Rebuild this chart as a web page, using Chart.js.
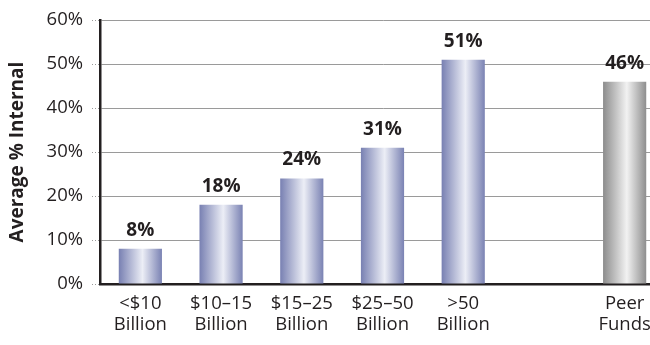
<!DOCTYPE html>
<html>
<head>
<meta charset="utf-8">
<script src="https://cdn.jsdelivr.net/npm/chart.js@4.4.1/dist/chart.umd.min.js"></script>
<style>
  html, body { margin: 0; padding: 0; background: #ffffff; overflow: hidden; }
  #wrap { position: relative; width: 666px; height: 345px; }
</style>
</head>
<body>
<div id="wrap"><canvas id="c"></canvas></div>
<script>
// Fund-size groups along the bottom axis (one blank slot before the peer group)
const categories = [
  ['<$10', 'Billion'],
  ['$10\u201315', 'Billion'],
  ['$15\u201325', 'Billion'],
  ['$25\u201350', 'Billion'],
  ['>50', 'Billion'],
  '',
  ['Peer', 'Funds']
];
// Average share managed internally, in percent
const internalPct = [8, 18, 24, 31, 51, null, 46];
// Which bars belong to the peer comparison (drawn in grey)
const isPeer = [false, false, false, false, false, false, true];
// Value-axis tick marks
const yTicks = [0, 10, 20, 30, 40, 50, 60];

const FONT = "'Open Sans', 'Noto Sans', sans-serif";
const BAR_FRACTION = 0.535;

function barGradient(context) {
  const chart = context.chart;
  const area = chart.chartArea;
  const xs = chart.scales.x;
  if (!area || !xs) return '#8a92c0';
  const i = context.dataIndex;
  const cx = xs.getPixelForValue(i);
  const half = (xs.width / categories.length) * BAR_FRACTION / 2;
  const g = chart.ctx.createLinearGradient(cx - half, 0, cx + half, 0);
  if (isPeer[i]) {
    g.addColorStop(0, '#8c8c8c');
    g.addColorStop(0.55, '#f2f2f2');
    g.addColorStop(1, '#8e8e8e');
  } else {
    g.addColorStop(0, '#7880b2');
    g.addColorStop(0.55, '#eceef6');
    g.addColorStop(1, '#7a82b3');
  }
  return g;
}

// Writes each bar's percentage just above it
const valueLabels = {
  id: 'valueLabels',
  afterDatasetsDraw(chart) {
    const ctx = chart.ctx;
    const meta = chart.getDatasetMeta(0);
    ctx.save();
    ctx.font = "bold 19px " + FONT;
    ctx.fillStyle = '#231f20';
    ctx.textAlign = 'center';
    ctx.textBaseline = 'alphabetic';
    meta.data.forEach((bar, i) => {
      const v = internalPct[i];
      if (v === null || v === undefined) return;
      ctx.fillText(v + '%', bar.x, bar.y - 13);
    });
    ctx.restore();
  }
};

new Chart(document.getElementById('c'), {
  type: 'bar',
  plugins: [valueLabels],
  data: {
    labels: categories,
    datasets: [{
      data: internalPct,
      backgroundColor: barGradient,
      borderWidth: 0,
      categoryPercentage: 1,
      barPercentage: BAR_FRACTION
    }]
  },
  options: {
    responsive: true,
    maintainAspectRatio: false,
    animation: false,
    layout: { padding: { top: 19, right: 1, left: 0, bottom: 0 } },
    plugins: {
      legend: { display: false },
      tooltip: { enabled: false }
    },
    scales: {
      x: {
        grid: { display: false, drawTicks: false },
        border: { display: true, color: '#231f20', width: 2.5 },
        ticks: {
          color: '#231f20',
          font: { family: FONT, size: 18.5, lineHeight: 1.15 },
          padding: 9,
          maxRotation: 0,
          autoSkip: false
        },
        afterFit(scale) { scale.height = 61; }
      },
      y: {
        min: 0,
        max: 60,
        afterBuildTicks(scale) { scale.ticks = yTicks.map(v => ({ value: v })); },
        grid: {
          color: '#9a9a9a',
          lineWidth: 1,
          tickLength: 8,
          tickColor: '#9a9a9a',
          tickBorderDash: [1, 2]
        },
        border: { display: true, color: '#231f20', width: 2.5 },
        ticks: {
          color: '#231f20',
          font: { family: FONT, size: 18.5 },
          padding: 9,
          callback: v => v + '%'
        },
        title: {
          display: true,
          text: 'Average % Internal',
          color: '#231f20',
          font: { family: FONT, size: 19, weight: 'bold' },
          padding: { top: 6, bottom: 0 }
        },
        afterFit(scale) { scale.width = 100; }
      }
    }
  }
});
</script>
</body>
</html>
